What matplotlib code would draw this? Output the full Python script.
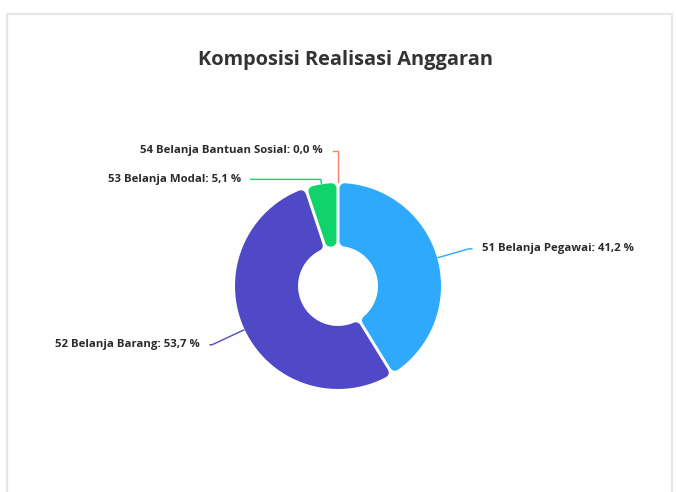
import numpy as np
import matplotlib.pyplot as plt
from matplotlib.path import Path
from matplotlib.patches import PathPatch, Rectangle

# ── Data ──────────────────────────────────────────────────────────────────────
categories = ["51 Belanja Pegawai", "52 Belanja Barang",
              "53 Belanja Modal", "54 Belanja Bantuan Sosial"]
shares = [41.2, 53.7, 5.1, 0.0]
colors = ["#2ea9fc", "#4f49c8", "#10d46b", "#f4826f"]

# ── Layout (pixel units) ──────────────────────────────────────────────────────
W, H = 676, 492
CX, CY = 338, 286
R_OUT, R_IN = 103, 40
CORNER = 5          # rounded corner radius of each slice
GAP = 1.5           # half of the white gap between slices
# leader line: length of radial segment, length of horizontal segment
leader_radial = [32, 35, 4, 31]
leader_horiz = [3, 2, 70, 5]
TEXT_GAP = 10

fig = plt.figure(figsize=(W / 100, H / 100), dpi=100)
ax = fig.add_axes([0, 0, 1, 1])
ax.set_xlim(0, W)
ax.set_ylim(H, 0)
ax.set_aspect("equal")
ax.axis("off")

# card outline
ax.add_patch(Rectangle((7, 14), 665, 500, facecolor="white",
                       edgecolor="#e6e6e6", linewidth=1.6, zorder=0))


def ring_slice(t1, t2, r_in, r_out, s):
    """Annular slice shrunk by parallel offset s on the radial edges."""
    a_out = np.arcsin(min(s / r_out, 1))
    a_in = np.arcsin(min(s / r_in, 1))
    to = np.linspace(t1 + a_out, t2 - a_out, 60)
    ti = np.linspace(t2 - a_in, t1 + a_in, 30)
    xs = np.concatenate([CX + r_out * np.cos(to), CX + r_in * np.cos(ti)])
    ys = np.concatenate([CY - r_out * np.sin(to), CY - r_in * np.sin(ti)])
    verts = np.column_stack([xs, ys])
    verts = np.vstack([verts, verts[:1]])
    codes = [Path.MOVETO] + [Path.LINETO] * (len(verts) - 2) + [Path.CLOSEPOLY]
    return Path(verts, codes)


total = sum(shares)
angle = np.pi / 2  # start at top, go clockwise
lw_pt = 2 * CORNER * 72 / 100

for i, (name, v, c) in enumerate(zip(categories, shares, colors)):
    sweep = 2 * np.pi * v / total
    t2, t1 = angle, angle - sweep
    mid = (t1 + t2) / 2
    angle = t1

    if v > 0:
        path = ring_slice(t1, t2, R_IN + CORNER, R_OUT - CORNER, CORNER + GAP)
        ax.add_patch(PathPatch(path, facecolor=c, edgecolor=c, linewidth=lw_pt,
                               joinstyle="round", zorder=2))

    # leader line
    x0, y0 = CX + (R_OUT + 1) * np.cos(mid), CY - (R_OUT + 1) * np.sin(mid)
    x1 = x0 + leader_radial[i] * np.cos(mid)
    y1 = y0 - leader_radial[i] * np.sin(mid)
    side = 1 if np.cos(mid) > 1e-6 else -1
    x2 = x1 + side * leader_horiz[i]
    ax.plot([x0, x1, x2], [y0, y1, y1], color=c, linewidth=1.0,
            solid_joinstyle="round", zorder=1)
    label = f"{name}: {v:.1f} %".replace(".", ",")
    ax.text(x2 + side * TEXT_GAP, y1, label, ha="left" if side > 0 else "right",
            va="center", fontsize=8.2, fontweight="bold", color="#2b2b2b",
            family="Open Sans")

ax.text(346, 60, "Komposisi Realisasi Anggaran", ha="center", va="center",
        fontsize=14.4, fontweight="bold", color="#333333", family="Open Sans")

fig.savefig("out.png", dpi=100)
